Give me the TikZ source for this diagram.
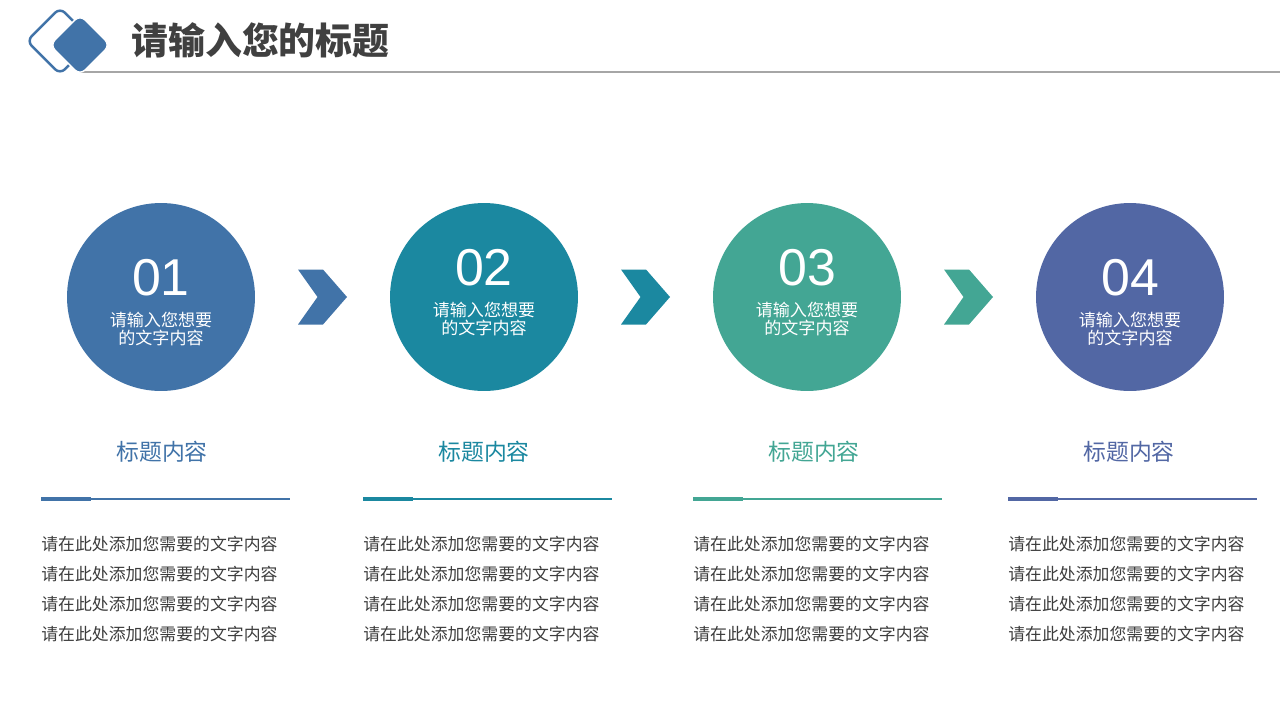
\documentclass[tikz,border=0pt]{standalone}
\usepackage{fontspec}
\setmainfont{Liberation Sans}
\newfontfamily\cjk{Noto Sans CJK SC}
\usepackage{tikz}
\usetikzlibrary{calc}

\definecolor{colOne}{RGB}{65,115,168}
\definecolor{colTwo}{RGB}{27,136,160}
\definecolor{colThree}{RGB}{67,166,148}
\definecolor{colFour}{RGB}{82,103,164}
\definecolor{bodygray}{RGB}{60,60,60}

\begin{document}
\begin{tikzpicture}[x=0.02cm, y=-0.02cm,
  disc/.style={circle, inner sep=0pt, minimum size=3.76cm},
  num/.style={text=white, inner sep=0pt, font=\fontsize{29.5}{30}\selectfont},
  intext/.style={text=white, inner sep=0pt, align=center,
    font=\cjk\fontsize{9.7}{10.8}\selectfont},
  head/.style={inner sep=0pt, font=\cjk\fontsize{13}{15}\selectfont},
  bodytext/.style={text=bodygray, inner sep=0pt, anchor=north west, align=left,
    font=\cjk\fontsize{9.6}{17.07}\selectfont},
  thinrule/.style={line width=0.6pt},
  thickrule/.style={line width=2pt}
]
\useasboundingbox (0,0) rectangle (1280,720);

% header
\draw[black!35, line width=0.7pt] (80,72) -- (1280,72);
\node[draw=colOne, line width=1.4pt, rounded corners=4pt, rotate=45,
  minimum size=0.94cm] (logoback) at (60,41) {};
\node[fill=colOne, draw=white, line width=0.8pt, rounded corners=4pt, rotate=45,
  minimum size=0.85cm] (logofront) at (80,45) {};
\node[anchor=west, inner sep=0pt, text=black!75,
  font=\cjk\bfseries\fontsize{21}{24}\selectfont] (title) at (131,40) {请输入您的标题};

% circles
\node[disc, fill=colOne] (c1) at (161,297) {};
\node[disc, fill=colTwo] (c2) at (484,297) {};
\node[disc, fill=colThree] (c3) at (807,297) {};
\node[disc, fill=colFour] (c4) at (1130,297) {};

\node[num] (n1) at ($(c1)+(0,-19)$) {01};
\node[intext] (t1) at ($(c1)+(0,32)$) {请输入您想要\\的文字内容};
\node[num] (n2) at ($(c2)+(0,-29)$) {02};
\node[intext] (t2) at ($(c2)+(0,22)$) {请输入您想要\\的文字内容};
\node[num] (n3) at ($(c3)+(0,-29)$) {03};
\node[intext] (t3) at ($(c3)+(0,22)$) {请输入您想要\\的文字内容};
\node[num] (n4) at ($(c4)+(0,-19)$) {04};
\node[intext] (t4) at ($(c4)+(0,32)$) {请输入您想要\\的文字内容};

% chevrons
\fill[colOne] ($(c1)!0.5!(c2)$) ++(-24.5,-27.5) -- ++(25,0) -- ++(24,27.5)
  -- ++(-24,27.5) -- ++(-25,0) -- ++(19.5,-27.5) -- cycle;
\fill[colTwo] ($(c2)!0.5!(c3)$) ++(-24.5,-27.5) -- ++(25,0) -- ++(24,27.5)
  -- ++(-24,27.5) -- ++(-25,0) -- ++(19.5,-27.5) -- cycle;
\fill[colThree] ($(c3)!0.5!(c4)$) ++(-24.5,-27.5) -- ++(25,0) -- ++(24,27.5)
  -- ++(-24,27.5) -- ++(-25,0) -- ++(19.5,-27.5) -- cycle;

% titles under the circles
\node[head, text=colOne] (h1) at (162,452) {标题内容};
\node[head, text=colTwo] (h2) at (484,452) {标题内容};
\node[head, text=colThree] (h3) at (814,452) {标题内容};
\node[head, text=colFour] (h4) at (1129,452) {标题内容};

% rules
\draw[thinrule, colOne] (41,499) -- (290,499);
\draw[thickrule, colOne] (41,499) -- (91,499);
\draw[thinrule, colTwo] (363,499) -- (612,499);
\draw[thickrule, colTwo] (363,499) -- (413,499);
\draw[thinrule, colThree] (693,499) -- (942,499);
\draw[thickrule, colThree] (693,499) -- (743,499);
\draw[thinrule, colFour] (1008,499) -- (1257,499);
\draw[thickrule, colFour] (1008,499) -- (1058,499);

% body text
\node[bodytext] (b1) at (41,536) {请在此处添加您需要的文字内容\\请在此处添加您需要的文字内容\\请在此处添加您需要的文字内容\\请在此处添加您需要的文字内容};
\node[bodytext] (b2) at (363,536) {请在此处添加您需要的文字内容\\请在此处添加您需要的文字内容\\请在此处添加您需要的文字内容\\请在此处添加您需要的文字内容};
\node[bodytext] (b3) at (693,536) {请在此处添加您需要的文字内容\\请在此处添加您需要的文字内容\\请在此处添加您需要的文字内容\\请在此处添加您需要的文字内容};
\node[bodytext] (b4) at (1008,536) {请在此处添加您需要的文字内容\\请在此处添加您需要的文字内容\\请在此处添加您需要的文字内容\\请在此处添加您需要的文字内容};
\end{tikzpicture}
\end{document}
